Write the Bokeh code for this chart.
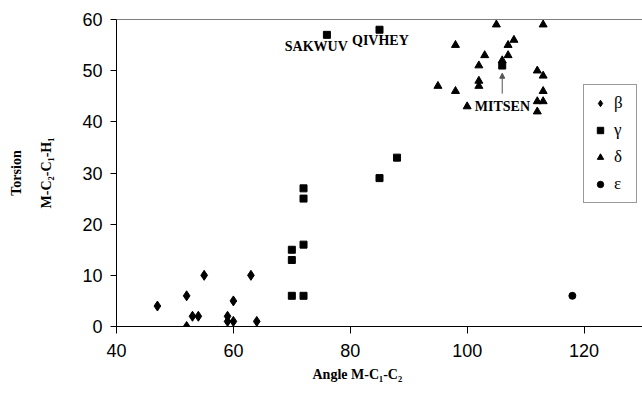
from bokeh.plotting import figure
from bokeh.models import Range1d, FixedTicker, Span, Arrow, NormalHead, Label, Title
from bokeh.embed import file_html
from bokeh.resources import INLINE

# ---- data ----
beta_x = [47, 52, 52, 53, 54, 55, 59, 59, 60, 60, 63, 64]
beta_y = [4, 6, 0, 2, 2, 10, 2, 1, 1, 5, 10, 1]

gamma_x = [70, 70, 70, 72, 72, 72, 72, 85, 88, 76, 85, 106]
gamma_y = [15, 13, 6, 6, 16, 25, 27, 29, 33, 57, 58, 51]

delta_x = [105, 113, 98, 108, 107, 103, 107, 102, 106, 112, 113, 102, 102, 95, 98, 113, 100, 112, 113, 112]
delta_y = [59, 59, 55, 56, 55, 53, 53, 51, 52, 50, 49, 48, 47, 47, 46, 46, 43, 44, 44, 42]

eps_x = [118]
eps_y = [6]

x_ticks = [40, 60, 80, 100, 120]
y_ticks = [0, 10, 20, 30, 40, 50, 60]

names = ["SAKWUV", "QIVHEY", "MITSEN"]

# ---- figure ----
p = figure(width=642, height=406, output_backend="svg", toolbar_location=None,
           x_range=Range1d(40, 130), y_range=Range1d(0, 60),
           min_border_left=116, min_border_right=0, min_border_top=19, min_border_bottom=80)
p.outline_line_color = None
p.grid.visible = False
p.background_fill_color = "white"
p.border_fill_color = "white"

for ax in (p.xaxis[0], p.yaxis[0]):
    ax.axis_line_color = "black"
    ax.major_tick_line_color = "black"
    ax.minor_tick_line_color = None
    ax.major_tick_in = 0
    ax.major_tick_out = 7
    ax.major_label_text_font = "Liberation Sans"
    ax.major_label_text_font_size = "18px"
    ax.major_label_text_color = "black"
    ax.major_label_standoff = 8
    ax.axis_label_text_font = "Liberation Serif"
    ax.axis_label_text_font_style = "bold"
    ax.axis_label_text_font_size = "14px"
    ax.axis_label_text_color = "black"

p.xaxis.ticker = FixedTicker(ticks=x_ticks)
p.yaxis.ticker = FixedTicker(ticks=y_ticks)
p.xaxis.major_label_standoff = 10
p.yaxis.major_tick_out = 6

# y-axis title, two lines
p.yaxis.axis_label = "Torsion\nM-C\u2082-C\u2081-H\u2081"
p.yaxis.axis_label_text_line_height = 2.0
p.yaxis.axis_label_standoff = 25

# x-axis title (placed off-centre, as in the original)
p.add_layout(Title(text="Angle M-C\u2081-C\u2082", align="left", offset=196, standoff=10,
                   text_font="Liberation Serif", text_font_style="bold",
                   text_font_size="14px", text_color="black"), "below")

p.add_layout(Span(location=60, dimension="width", line_color="black", line_width=1))

p.scatter(beta_x, beta_y, marker="diamond", size=10, color="black", legend_label="\u03b2")
p.scatter(gamma_x, gamma_y, marker="square", size=7, color="black", legend_label="\u03b3")
p.scatter(delta_x, delta_y, marker="triangle", size=8, color="black", legend_label="\u03b4")
p.scatter(eps_x, eps_y, marker="circle", size=7, color="black", legend_label="\u03b5")

label_pos = [(68.8, 54.7), (80.3, 55.9), (101.3, 43.0)]
for name, (lx, ly) in zip(names, label_pos):
    p.add_layout(Label(x=lx, y=ly, text=name, text_font="Liberation Serif",
                       text_font_style="bold", text_font_size="14px",
                       text_color="black", text_align="left", text_baseline="alphabetic"))

p.add_layout(Arrow(end=NormalHead(size=5, fill_color="#555555", line_color="#555555"),
                   x_start=106, y_start=45.5, x_end=106, y_end=49.5,
                   line_color="#555555", line_width=1))

lg = p.legend[0]
lg.location = (467, 123)
lg.border_line_color = "#333333"
lg.border_line_width = 1
lg.background_fill_alpha = 1
lg.label_text_font = "Liberation Serif"
lg.label_text_font_size = "17px"
lg.label_text_color = "black"
lg.glyph_width = 16
lg.glyph_height = 20
lg.label_height = 20
lg.spacing = 7
lg.padding = 8
lg.margin = 0
lg.label_standoff = 6
lg.label_width = 14

open("out.html", "w").write(file_html(p, INLINE))
